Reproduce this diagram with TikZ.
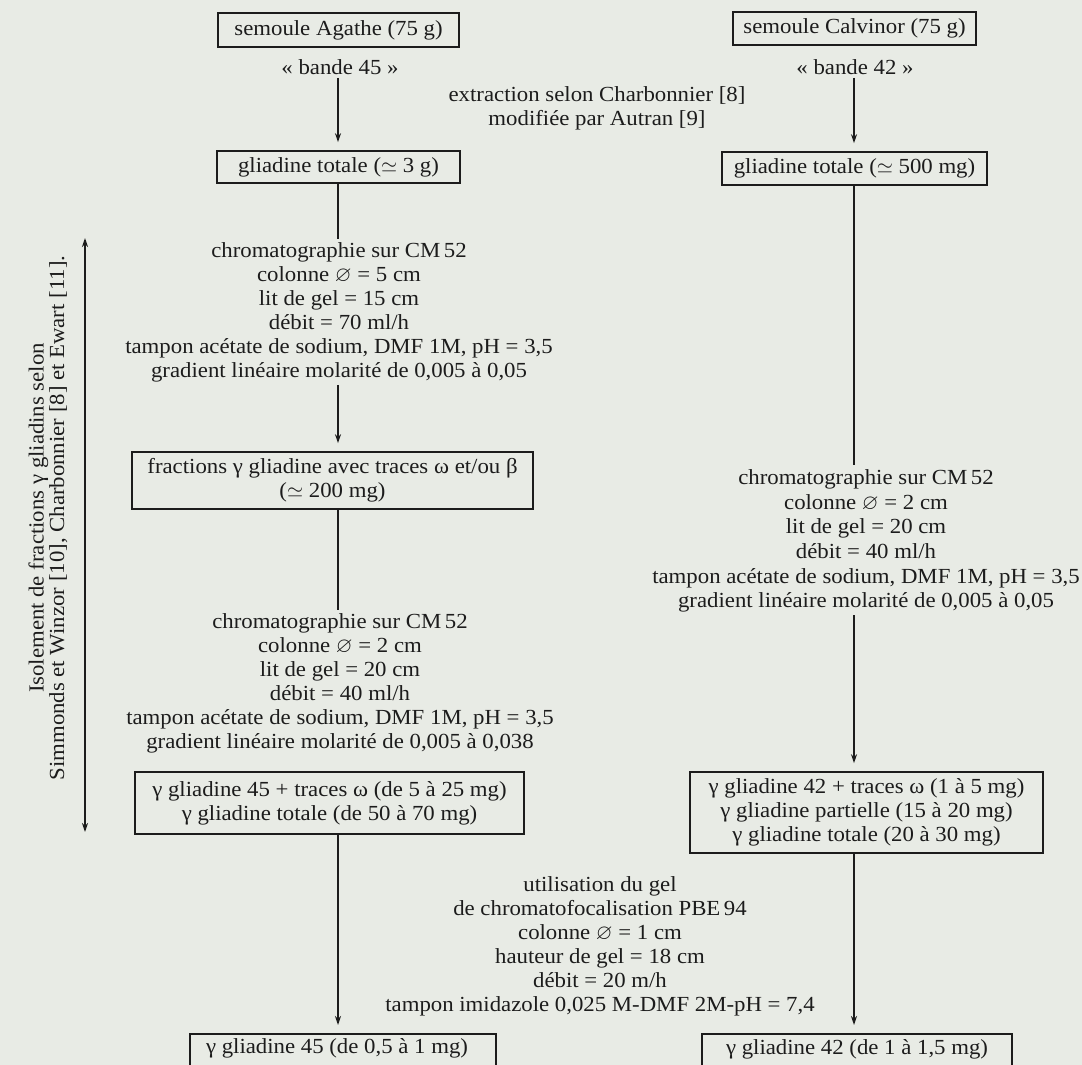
\documentclass[tikz,border=0pt]{standalone}
\usepackage{fontspec}
\usepackage{amssymb}
\setmainfont{Liberation Serif}[FakeStretch=1.06]
\usetikzlibrary{arrows.meta}
\definecolor{paper}{RGB}{232,235,229}
\definecolor{ink}{RGB}{28,28,28}
\begin{document}
\begin{tikzpicture}[x=1pt,y=-1pt,
  every node/.style={font=\fontsize{21.5}{24}\selectfont, text=ink, align=center},
  box/.style={draw=ink, line width=1.6pt, inner sep=0pt},
  txt/.style={inner sep=3pt},
  flow/.style={draw=ink, line width=1.3pt},
  arr/.style={flow, -{Stealth[length=9pt,width=6pt]}, shorten >=8pt},
  dbl/.style={flow, {Stealth[length=9pt,width=6pt]}-{Stealth[length=9pt,width=6pt]}},
]
\fill[paper] (0,0) rectangle (1082,1065);
\path[use as bounding box] (0,0) rectangle (1082,1065);

% left column
\node[box, minimum width=241, minimum height=34] (a1) at (338.5,30) {semoule Agathe (75 g)};
\node[txt] (lb45) at (340,67) {« bande 45 »};
\node[box, minimum width=243, minimum height=32] (a2) at (338.5,167) {gliadine totale ($\simeq$ 3 g)};
\node[txt] (t1) at (339,312) {chromatographie sur CM\,52\\colonne $\varnothing$ = 5 cm\\lit de gel = 15 cm\\débit = 70 ml/h\\tampon acétate de sodium, DMF 1M, pH = 3,5\\gradient linéaire molarité de 0,005 à 0,05};
\node[box, minimum width=401, minimum height=57] (a3) at (332.5,480.5) {fractions γ gliadine avec traces ω et/ou β\\($\simeq$ 200 mg)};
\node[txt] (t2) at (340,683) {chromatographie sur CM\,52\\colonne $\varnothing$ = 2 cm\\lit de gel = 20 cm\\débit = 40 ml/h\\tampon acétate de sodium, DMF 1M, pH = 3,5\\gradient linéaire molarité de 0,005 à 0,038};
\node[box, minimum width=389, minimum height=62] (a4) at (329.5,803) {γ gliadine 45 + traces ω (de 5 à 25 mg)\\γ gliadine totale (de 50 à 70 mg)};
\node[box, anchor=north, minimum width=306, text height=20, text depth=30, inner ysep=0pt] (a5) at (343,1033) {\hspace*{-12pt}γ gliadine 45 (de 0,5 à 1 mg)};

% right column
\node[box, minimum width=243, minimum height=33] (c1) at (854.5,28.5) {semoule Calvinor (75 g)};
\node[txt] (lb42) at (855,67) {« bande 42 »};
\node[box, minimum width=265, minimum height=33] (c2) at (854.5,168.5) {gliadine totale ($\simeq$ 500 mg)};
\node[txt, font=\fontsize{21.5}{24.6}\selectfont] (rb) at (866,541) {chromatographie sur CM\,52\\colonne $\varnothing$ = 2 cm\\lit de gel = 20 cm\\débit = 40 ml/h\\tampon acétate de sodium, DMF 1M, pH = 3,5\\gradient linéaire molarité de 0,005 à 0,05};
\node[box, minimum width=353, minimum height=81] (c3) at (866.5,812.5) {γ gliadine 42 + traces ω (1 à 5 mg)\\γ gliadine partielle (15 à 20 mg)\\γ gliadine totale (20 à 30 mg)};
\node[box, anchor=north, minimum width=310, text height=21, text depth=30, inner ysep=0pt] (c4) at (857,1033) {γ gliadine 42 (de 1 à 1,5 mg)};

% middle labels
\node[txt] (ext) at (597,108.5) {extraction selon Charbonnier [8]\\modifiée par Autran [9]};
\node[txt] (mid) at (600,946) {utilisation du gel\\de chromatofocalisation PBE\,94\\colonne $\varnothing$ = 1 cm\\hauteur de gel = 18 cm\\débit = 20 m/h\\tampon imidazole 0,025 M-DMF 2M-pH = 7,4};

% side label
\node[font=\fontsize{21.5}{19}\selectfont, rotate=90] (side) at (48,518) {Isolement de fractions γ gliadins selon\\Simmonds et Winzor [10], Charbonnier [8] et Ewart [11].};
\coordinate (stop) at (85,238);
\coordinate (sbot) at (85,832);
\draw[dbl] (stop) -- (sbot);

% connectors
\coordinate (lx) at (338,0);
\coordinate (rx) at (854,0);
\draw[arr] (lx |- lb45.south) -- (lx |- a2.north);
\draw[flow] (lx |- a2.south) -- (lx |- t1.north);
\draw[arr] (lx |- t1.south) -- (lx |- a3.north);
\draw[flow] (lx |- a3.south) -- (lx |- t2.north);
\draw[arr] (lx |- a4.south) -- (lx |- a5.north);

\draw[arr] (rx |- lb42.south) -- (rx |- c2.north);
\draw[flow] (rx |- c2.south) -- ([yshift=2pt]rx |- rb.north);
\draw[arr] (rx |- rb.south) -- (rx |- c3.north);
\draw[arr] (rx |- c3.south) -- (rx |- c4.north);
\end{tikzpicture}
\end{document}
